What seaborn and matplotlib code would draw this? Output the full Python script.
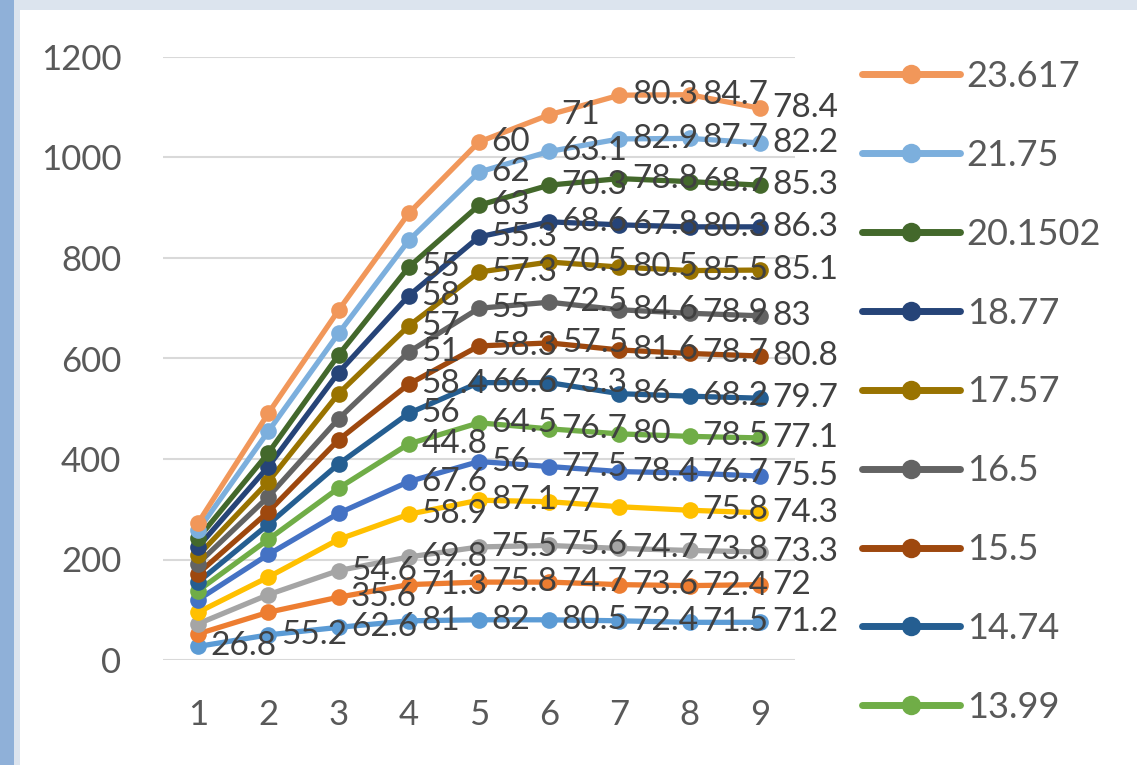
import numpy as np
import pandas as pd
import matplotlib
matplotlib.use("Agg")
import matplotlib.pyplot as plt
from matplotlib.lines import Line2D
from matplotlib.patches import Rectangle
import seaborn as sns

# x categories
x_vals = [1, 2, 3, 4, 5, 6, 7, 8, 9]

# series names (only the first nine show in the cut-off legend)
names = ["23.617", "21.75", "20.1502", "18.77", "17.57", "16.5", "15.5",
         "14.74", "13.99", "s10", "s11", "s12", "s13", "s14"]

# y values, one list per series
s1 = [273, 491, 696, 889, 1031, 1085, 1124, 1125, 1098]
s2 = [258, 455, 650, 835, 971, 1012, 1037, 1038, 1029]
s3 = [242, 412, 607, 782, 905, 945, 958, 952, 945]
s4 = [225, 385, 572, 725, 842, 872, 866, 862, 862]
s5 = [208, 355, 530, 665, 772, 792, 782, 775, 776]
s6 = [192, 325, 480, 613, 700, 712, 697, 690, 685]
s7 = [172, 295, 438, 549, 625, 631, 617, 610, 605]
s8 = [155, 270, 390, 491, 552, 552, 530, 525, 521]
s9 = [138, 240, 342, 430, 472, 460, 450, 445, 442]
s10 = [120, 210, 292, 355, 395, 385, 375, 372, 366]
s11 = [95, 165, 240, 290, 318, 315, 305, 298, 293]
s12 = [72, 130, 178, 205, 225, 228, 222, 218, 215]
s13 = [52, 95, 125, 150, 155, 155, 150, 148, 150]
s14 = [27, 50, 65, 78, 80, 80, 78, 75, 75]
series = [s1, s2, s3, s4, s5, s6, s7, s8, s9, s10, s11, s12, s13, s14]

# data label texts (as printed next to the points)
l1 = ["", "", "", "", "60", "71", "80.3", "84.7", "78.4"]
l2 = ["", "", "", "", "62", "63.1", "82.9", "87.7", "82.2"]
l3 = ["", "", "", "55", "63", "70.3", "78.8", "68.7", "85.3"]
l4 = ["", "", "", "58", "55.3", "68.6", "67.8", "80.3", "86.3"]
l5 = ["", "", "", "57", "57.3", "70.5", "80.5", "85.5", "85.1"]
l6 = ["", "", "", "51", "55", "72.5", "84.6", "78.9", "83"]
l7 = ["", "", "", "58.4", "58.3", "57.5", "81.6", "78.7", "80.8"]
l8 = ["", "", "", "56", "66.6", "73.3", "86", "68.2", "79.7"]
l9 = ["", "", "", "44.8", "64.5", "76.7", "80", "78.5", "77.1"]
l10 = ["", "", "", "67.6", "56", "77.5", "78.4", "76.7", "75.5"]
l11 = ["", "", "", "58.9", "87.1", "77", "", "75.8", "74.3"]
l12 = ["", "", "54.6", "69.8", "75.5", "75.6", "74.7", "73.8", "73.3"]
l13 = ["", "", "35.6", "71.3", "75.8", "74.7", "73.6", "72.4", "72"]
l14 = ["26.8", "55.2", "62.6", "81", "82", "80.5", "72.4", "71.5", "71.2"]
labels = [l1, l2, l3, l4, l5, l6, l7, l8, l9, l10, l11, l12, l13, l14]

colors = ["#F1975A", "#7CAFDD", "#43682B", "#264478", "#997300", "#636363",
          "#9E480E", "#255E91", "#70AD47", "#4472C4", "#FFC000", "#A5A5A5",
          "#ED7D31", "#5B9BD5"]

rows = []
for name, vals in zip(names, series):
    for x, y in zip(x_vals, vals):
        rows.append({"x": x, "y": y, "series": name})
df = pd.DataFrame(rows)

sns.set_theme(style="white")
plt.rcParams["font.family"] = ["Lato", "DejaVu Sans"]

fig = plt.figure(figsize=(11.37, 7.65), dpi=100)
fig.patch.set_facecolor("#dce4ee")
# white chart area inside the screenshot frame
fig.patches.append(Rectangle((20 / 1137, 0), 1 - 20 / 1137, 1 - 10 / 765,
                             transform=fig.transFigure, facecolor="white",
                             edgecolor="none", zorder=-5))
fig.patches.append(Rectangle((0, 0), 14 / 1137, 1, transform=fig.transFigure,
                             facecolor="#8fb0d8", edgecolor="none", zorder=-5))

ax = fig.add_axes([163 / 1137, 1 - 660 / 765, (795 - 163) / 1137, (660 - 57) / 765])
ax.set_facecolor("none")
ax.set_zorder(2)

# draw bottom series first so the top ones sit on top, like Excel
order = names[::-1]
sns.lineplot(data=df, x="x", y="y", hue="series", hue_order=order,
             palette=dict(zip(names, colors)), marker="o", markersize=12,
             markeredgewidth=0, linewidth=3.8, legend=False, ax=ax)

for vals, labs in zip(series, labels):
    for x, y, t in zip(x_vals, vals, labs):
        if t:
            ax.annotate(t, (x, y), xytext=(9, 0), textcoords="offset points",
                        ha="left", va="center", fontsize=24, color="#404040",
                        annotation_clip=False)

ax.set_xlim(0.5, 9.5)
ax.set_ylim(0, 1200)
ax.set_xticks(x_vals)
ax.set_yticks(range(0, 1201, 200))
ax.tick_params(axis="both", labelsize=25, colors="#595959", length=0)
ax.tick_params(axis="x", pad=28)
ax.tick_params(axis="y", pad=30)
ax.yaxis.grid(True, color="#d9d9d9", linewidth=1.5)
ax.set_axisbelow(True)
for sp in ax.spines.values():
    sp.set_visible(False)
ax.set_xlabel("")
ax.set_ylabel("")

handles = [Line2D([0], [0], color=c, linewidth=5, marker="o", markersize=14,
                  markeredgewidth=0) for c in colors[:9]]
fig.legend(handles, names[:9], loc="upper left",
           bbox_to_anchor=(862 / 1137, 1 - 60 / 765), frameon=False,
           fontsize=26, labelcolor="#595959", handlelength=2.7,
           handletextpad=0.2, labelspacing=1.27, borderpad=0, borderaxespad=0)

fig.savefig("out.png", dpi=100)
